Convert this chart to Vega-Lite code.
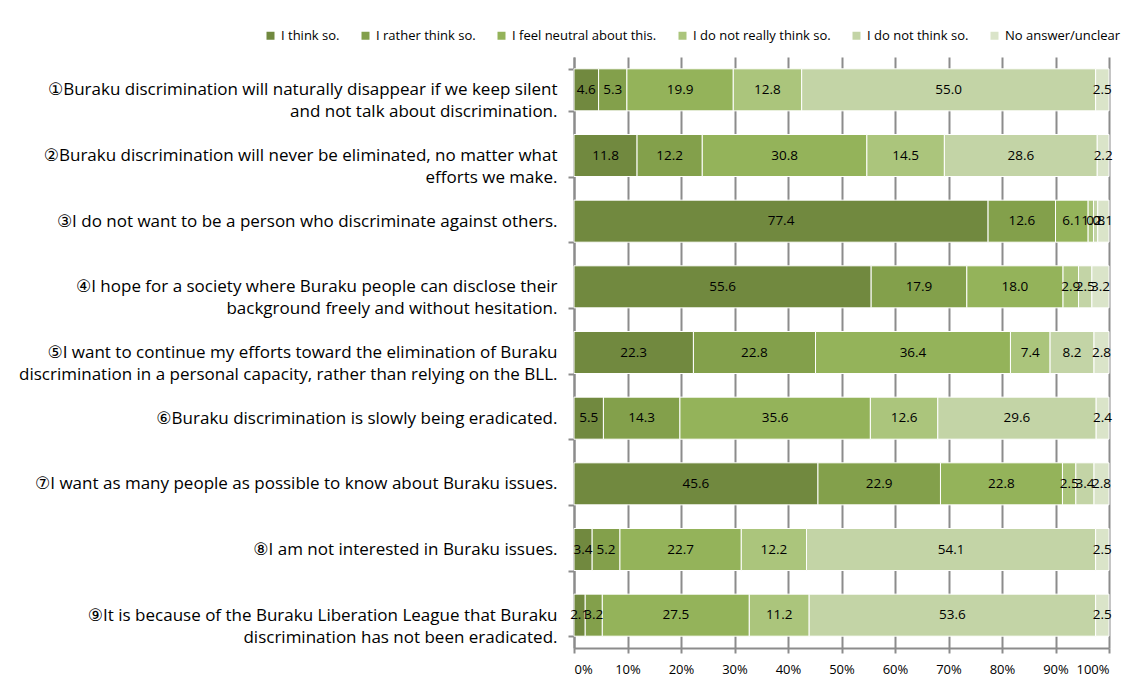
{
  "$schema": "https://vega.github.io/schema/vega-lite/v6.json",
  "autosize": "none",
  "width": 535,
  "height": 591,
  "padding": {"left": 574, "top": 57, "right": 17, "bottom": 38},
  "background": "white",
  "config": {
    "font": "Open Sans, DejaVu Sans",
    "view": {"stroke": null}
  },
  "data": {
    "values": [
      {"q": 1, "item": "①Buraku discrimination will naturally disappear if we keep silent|and not talk about discrimination.", "k": 1, "ans": "I think so.", "v": 4.6},
      {"q": 1, "item": "①Buraku discrimination will naturally disappear if we keep silent|and not talk about discrimination.", "k": 2, "ans": "I rather think so.", "v": 5.3},
      {"q": 1, "item": "①Buraku discrimination will naturally disappear if we keep silent|and not talk about discrimination.", "k": 3, "ans": "I feel neutral about this.", "v": 19.9},
      {"q": 1, "item": "①Buraku discrimination will naturally disappear if we keep silent|and not talk about discrimination.", "k": 4, "ans": "I do not really think so.", "v": 12.8},
      {"q": 1, "item": "①Buraku discrimination will naturally disappear if we keep silent|and not talk about discrimination.", "k": 5, "ans": "I do not think so.", "v": 55.0},
      {"q": 1, "item": "①Buraku discrimination will naturally disappear if we keep silent|and not talk about discrimination.", "k": 6, "ans": "No answer/unclear", "v": 2.5},

      {"q": 2, "item": "②Buraku discrimination will never be eliminated, no matter what|efforts we make.", "k": 1, "ans": "I think so.", "v": 11.8},
      {"q": 2, "item": "②Buraku discrimination will never be eliminated, no matter what|efforts we make.", "k": 2, "ans": "I rather think so.", "v": 12.2},
      {"q": 2, "item": "②Buraku discrimination will never be eliminated, no matter what|efforts we make.", "k": 3, "ans": "I feel neutral about this.", "v": 30.8},
      {"q": 2, "item": "②Buraku discrimination will never be eliminated, no matter what|efforts we make.", "k": 4, "ans": "I do not really think so.", "v": 14.5},
      {"q": 2, "item": "②Buraku discrimination will never be eliminated, no matter what|efforts we make.", "k": 5, "ans": "I do not think so.", "v": 28.6},
      {"q": 2, "item": "②Buraku discrimination will never be eliminated, no matter what|efforts we make.", "k": 6, "ans": "No answer/unclear", "v": 2.2},

      {"q": 3, "item": "③I do not want to be a person who discriminate against others.", "k": 1, "ans": "I think so.", "v": 77.4},
      {"q": 3, "item": "③I do not want to be a person who discriminate against others.", "k": 2, "ans": "I rather think so.", "v": 12.6},
      {"q": 3, "item": "③I do not want to be a person who discriminate against others.", "k": 3, "ans": "I feel neutral about this.", "v": 6.1},
      {"q": 3, "item": "③I do not want to be a person who discriminate against others.", "k": 4, "ans": "I do not really think so.", "v": 1.0},
      {"q": 3, "item": "③I do not want to be a person who discriminate against others.", "k": 5, "ans": "I do not think so.", "v": 0.8},
      {"q": 3, "item": "③I do not want to be a person who discriminate against others.", "k": 6, "ans": "No answer/unclear", "v": 2.1},

      {"q": 4, "item": "④I hope for a society where Buraku people can disclose their|background freely and without hesitation.", "k": 1, "ans": "I think so.", "v": 55.6},
      {"q": 4, "item": "④I hope for a society where Buraku people can disclose their|background freely and without hesitation.", "k": 2, "ans": "I rather think so.", "v": 17.9},
      {"q": 4, "item": "④I hope for a society where Buraku people can disclose their|background freely and without hesitation.", "k": 3, "ans": "I feel neutral about this.", "v": 18.0},
      {"q": 4, "item": "④I hope for a society where Buraku people can disclose their|background freely and without hesitation.", "k": 4, "ans": "I do not really think so.", "v": 2.9},
      {"q": 4, "item": "④I hope for a society where Buraku people can disclose their|background freely and without hesitation.", "k": 5, "ans": "I do not think so.", "v": 2.5},
      {"q": 4, "item": "④I hope for a society where Buraku people can disclose their|background freely and without hesitation.", "k": 6, "ans": "No answer/unclear", "v": 3.2},

      {"q": 5, "item": "⑤I want to continue my efforts toward the elimination of Buraku|discrimination in a personal capacity, rather than relying on the BLL.", "k": 1, "ans": "I think so.", "v": 22.3},
      {"q": 5, "item": "⑤I want to continue my efforts toward the elimination of Buraku|discrimination in a personal capacity, rather than relying on the BLL.", "k": 2, "ans": "I rather think so.", "v": 22.8},
      {"q": 5, "item": "⑤I want to continue my efforts toward the elimination of Buraku|discrimination in a personal capacity, rather than relying on the BLL.", "k": 3, "ans": "I feel neutral about this.", "v": 36.4},
      {"q": 5, "item": "⑤I want to continue my efforts toward the elimination of Buraku|discrimination in a personal capacity, rather than relying on the BLL.", "k": 4, "ans": "I do not really think so.", "v": 7.4},
      {"q": 5, "item": "⑤I want to continue my efforts toward the elimination of Buraku|discrimination in a personal capacity, rather than relying on the BLL.", "k": 5, "ans": "I do not think so.", "v": 8.2},
      {"q": 5, "item": "⑤I want to continue my efforts toward the elimination of Buraku|discrimination in a personal capacity, rather than relying on the BLL.", "k": 6, "ans": "No answer/unclear", "v": 2.8},

      {"q": 6, "item": "⑥Buraku discrimination is slowly being eradicated.", "k": 1, "ans": "I think so.", "v": 5.5},
      {"q": 6, "item": "⑥Buraku discrimination is slowly being eradicated.", "k": 2, "ans": "I rather think so.", "v": 14.3},
      {"q": 6, "item": "⑥Buraku discrimination is slowly being eradicated.", "k": 3, "ans": "I feel neutral about this.", "v": 35.6},
      {"q": 6, "item": "⑥Buraku discrimination is slowly being eradicated.", "k": 4, "ans": "I do not really think so.", "v": 12.6},
      {"q": 6, "item": "⑥Buraku discrimination is slowly being eradicated.", "k": 5, "ans": "I do not think so.", "v": 29.6},
      {"q": 6, "item": "⑥Buraku discrimination is slowly being eradicated.", "k": 6, "ans": "No answer/unclear", "v": 2.4},

      {"q": 7, "item": "⑦I want as many people as possible to know about Buraku issues.", "k": 1, "ans": "I think so.", "v": 45.6},
      {"q": 7, "item": "⑦I want as many people as possible to know about Buraku issues.", "k": 2, "ans": "I rather think so.", "v": 22.9},
      {"q": 7, "item": "⑦I want as many people as possible to know about Buraku issues.", "k": 3, "ans": "I feel neutral about this.", "v": 22.8},
      {"q": 7, "item": "⑦I want as many people as possible to know about Buraku issues.", "k": 4, "ans": "I do not really think so.", "v": 2.5},
      {"q": 7, "item": "⑦I want as many people as possible to know about Buraku issues.", "k": 5, "ans": "I do not think so.", "v": 3.4},
      {"q": 7, "item": "⑦I want as many people as possible to know about Buraku issues.", "k": 6, "ans": "No answer/unclear", "v": 2.8},

      {"q": 8, "item": "⑧I am not interested in Buraku issues.", "k": 1, "ans": "I think so.", "v": 3.4},
      {"q": 8, "item": "⑧I am not interested in Buraku issues.", "k": 2, "ans": "I rather think so.", "v": 5.2},
      {"q": 8, "item": "⑧I am not interested in Buraku issues.", "k": 3, "ans": "I feel neutral about this.", "v": 22.7},
      {"q": 8, "item": "⑧I am not interested in Buraku issues.", "k": 4, "ans": "I do not really think so.", "v": 12.2},
      {"q": 8, "item": "⑧I am not interested in Buraku issues.", "k": 5, "ans": "I do not think so.", "v": 54.1},
      {"q": 8, "item": "⑧I am not interested in Buraku issues.", "k": 6, "ans": "No answer/unclear", "v": 2.5},

      {"q": 9, "item": "⑨It is because of the Buraku Liberation League that Buraku|discrimination has not been eradicated.", "k": 1, "ans": "I think so.", "v": 2.1},
      {"q": 9, "item": "⑨It is because of the Buraku Liberation League that Buraku|discrimination has not been eradicated.", "k": 2, "ans": "I rather think so.", "v": 3.2},
      {"q": 9, "item": "⑨It is because of the Buraku Liberation League that Buraku|discrimination has not been eradicated.", "k": 3, "ans": "I feel neutral about this.", "v": 27.5},
      {"q": 9, "item": "⑨It is because of the Buraku Liberation League that Buraku|discrimination has not been eradicated.", "k": 4, "ans": "I do not really think so.", "v": 11.2},
      {"q": 9, "item": "⑨It is because of the Buraku Liberation League that Buraku|discrimination has not been eradicated.", "k": 5, "ans": "I do not think so.", "v": 53.6},
      {"q": 9, "item": "⑨It is because of the Buraku Liberation League that Buraku|discrimination has not been eradicated.", "k": 6, "ans": "No answer/unclear", "v": 2.5}
    ]
  },
  "encoding": {
    "y": {
      "field": "item",
      "type": "nominal",
      "sort": null,
      "title": null,
      "scale": {"paddingInner": 0.36, "paddingOuter": 0.18},
      "axis": {
        "labelExpr": "datum.value ? split(datum.value, '|') : ''",
        "labelFontSize": 17,
        "labelColor": "#000000",
        "labelLimit": 600,
        "labelPadding": 11,
        "labelLineHeight": 22,
        "tickBand": "extent",
        "tickSize": 6,
        "tickColor": "#8c8c8c",
        "tickWidth": 2,
        "domainColor": "#8c8c8c",
        "domainWidth": 2,
        "grid": false
      }
    }
  },
  "layer": [
    {
      "mark": {"type": "bar", "stroke": "white", "strokeWidth": 1},
      "encoding": {
        "x": {
          "field": "v",
          "type": "quantitative",
          "stack": "normalize",
          "title": null,
          "axis": {
            "values": [0, 0.1, 0.2, 0.3, 0.4, 0.5, 0.6, 0.7, 0.8, 0.9, 1],
            "format": ".0%",
            "labelFontSize": 13,
            "labelColor": "#000000",
            "labelPadding": 10,
            "tickSize": 5,
            "tickColor": "#8c8c8c",
            "tickWidth": 2,
            "domainColor": "#8c8c8c",
            "domainWidth": 2,
            "grid": true,
            "gridColor": "#8c8c8c",
            "gridWidth": 2
          }
        },
        "order": {"field": "k", "type": "quantitative"},
        "color": {
          "field": "ans",
          "type": "nominal",
          "sort": ["I think so.", "I rather think so.", "I feel neutral about this.", "I do not really think so.", "I do not think so.", "No answer/unclear"],
          "scale": {
            "domain": ["I think so.", "I rather think so.", "I feel neutral about this.", "I do not really think so.", "I do not think so.", "No answer/unclear"],
            "range": ["#71893f", "#83a04b", "#94b35a", "#abc57c", "#c3d4a6", "#dae4c9"]
          },
          "legend": {
            "title": null,
            "orient": "none",
            "direction": "horizontal",
            "legendX": -310,
            "legendY": -28,
            "symbolType": "square",
            "symbolSize": 64,
            "symbolStrokeWidth": 0,
            "labelFontSize": 13,
            "labelColor": "#000000",
            "columnPadding": 19,
            "labelOffset": 4
          }
        }
      }
    },
    {
      "mark": {"type": "text", "fontSize": 13.5, "color": "#000000", "baseline": "middle", "align": "center"},
      "encoding": {
        "x": {"field": "v", "type": "quantitative", "stack": "normalize", "bandPosition": 0.5},
        "order": {"field": "k", "type": "quantitative"},
        "text": {"field": "v", "type": "quantitative", "format": ".1f"}
      }
    }
  ]
}
